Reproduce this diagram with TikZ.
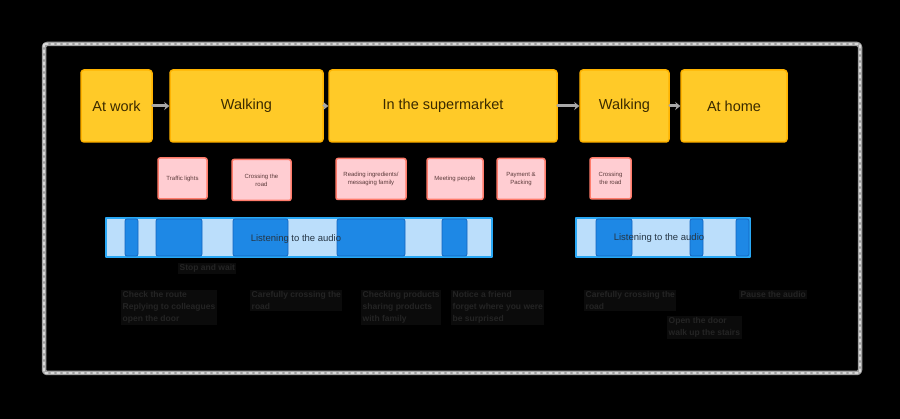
\documentclass[tikz,border=0pt]{standalone}
\usepackage{fontspec}
\setmainfont{Liberation Sans}
\usepackage{tikz}
\usepackage{xcolor}
\usetikzlibrary{arrows.meta}
\definecolor{framegray}{HTML}{A0A0A0}
\definecolor{framelight}{HTML}{D8D8D8}
\definecolor{stagefill}{HTML}{FFCA28}
\definecolor{stageline}{HTML}{FFB300}
\definecolor{stagetext}{HTML}{3A2A00}
\definecolor{arrowgray}{HTML}{A8A8A8}
\definecolor{eventfill}{HTML}{FFCDD2}
\definecolor{eventline}{HTML}{FF7B6B}
\definecolor{eventtext}{HTML}{5A3A3A}
\definecolor{audiofill}{HTML}{BBDEFB}
\definecolor{audioline}{HTML}{29A8F5}
\definecolor{blockfill}{HTML}{1E88E5}
\definecolor{blockline}{HTML}{1565C0}
\definecolor{audiotext}{HTML}{263645}
\definecolor{notefill}{HTML}{0B0B0B}
\definecolor{notetext}{HTML}{242424}

\begin{document}
\begin{tikzpicture}[x=1pt, y=-1pt]
  \tikzstyle{myline}=[line cap=round,line join=round];
  %
  % background
  \fill[black] (0,0) rectangle (900,419);
  \useasboundingbox (0,0) rectangle (900,419);
  %
  % frame
  \tikzstyle{frame}=[myline, draw=framegray, line width=4.5, rounded corners=3];
  \draw[frame] (44,44) rectangle (860,373);
  \draw[myline, draw=framelight, line width=1.2, dash pattern=on 3 off 3] (44,44) rectangle (860,373);
  %
  % stages
  \tikzstyle{stage}=[myline, draw=stageline, fill=stagefill, line width=1.5, rounded corners=3, minimum height=72, inner sep=0, text=stagetext, font=\fontsize{14.5}{17}\selectfont];
  \node[stage, minimum width=71] (work) at (116.5,106) {At work};
  \node[stage, minimum width=153] (walkA) at (246.5,106) {Walking};
  \node[stage, minimum width=228] (shop) at (443,106) {In the supermarket};
  \node[stage, minimum width=89] (walkB) at (624.5,106) {Walking};
  \node[stage, minimum width=106] (home) at (734,106) {At home};
  %
  % flow between stages
  \tikzstyle{flow}=[myline, draw=arrowgray, line width=3, -{Stealth[length=5, width=8]}];
  \draw[flow] (work) -- (walkA);
  \draw[flow] (walkA) -- (shop);
  \draw[flow] (shop) -- (walkB);
  \draw[flow] (walkB) -- (home);
  %
  % interruptions
  \tikzstyle{event}=[myline, draw=eventline, fill=eventfill, line width=1.5, rounded corners=2, minimum height=41, inner sep=1, align=center, text=eventtext, font=\fontsize{6}{8}\selectfont];
  \node[event, minimum width=49] (lights) at (182.5,178.5) {Traffic lights};
  \node[event, minimum width=59] (crossA) at (261.5,180) {Crossing the\\road};
  \node[event, minimum width=70] (reading) at (371,179) {Reading ingredients/\\messaging family};
  \node[event, minimum width=56] (meet) at (455,179) {Meeting people};
  \node[event, minimum width=48] (pay) at (521,179) {Payment \&\\Packing};
  \node[event, minimum width=41] (crossB) at (610.5,178.5) {Crossing\\the road};
  %
  % audio tracks
  \tikzstyle{audio}=[myline, draw=audioline, fill=audiofill, line width=1.5];
  \tikzstyle{block}=[myline, draw=blockline, fill=blockfill, line width=0.8, rounded corners=2];
  \draw[audio] (106,218) rectangle (492,257);
  \foreach \a/\b in {125/138, 156/202, 233/288, 337/405, 442/467}
    \draw[block] (\a,219) rectangle (\b,256);
  \draw[audio] (576,218) rectangle (750,257);
  \foreach \a/\b in {596/632, 690/703, 736/749}
    \draw[block] (\a,219) rectangle (\b,256);
  \tikzstyle{audiolabel}=[text=audiotext, font=\fontsize{9.5}{11}\selectfont];
  \node[audiolabel] (listenA) at (296,239) {Listening to the audio};
  \node[audiolabel] (listenB) at (659,238) {Listening to the audio};
  %
  % notes
  \tikzstyle{note}=[anchor=north west, align=left, fill=notefill, text=notetext, inner sep=1.5, font=\bfseries\fontsize{8.5}{12}\selectfont];
  \node[note] (wait) at (178,263) {Stop and wait};
  \node[note] (route) at (121,290) {Check the route\\Replying to colleagues\\open the door};
  \node[note] (carefulA) at (250,290) {Carefully crossing the\\road};
  \node[note] (products) at (361,290) {Checking products\\sharing products\\with family};
  \node[note] (friend) at (451,290) {Notice a friend\\forget where you were\\be surprised};
  \node[note] (carefulB) at (584,290) {Carefully crossing the\\road};
  \node[note] (door) at (667,316) {Open the door\\walk up the stairs};
  \node[note] (pause) at (739,290) {Pause the audio};
\end{tikzpicture}
\end{document}
